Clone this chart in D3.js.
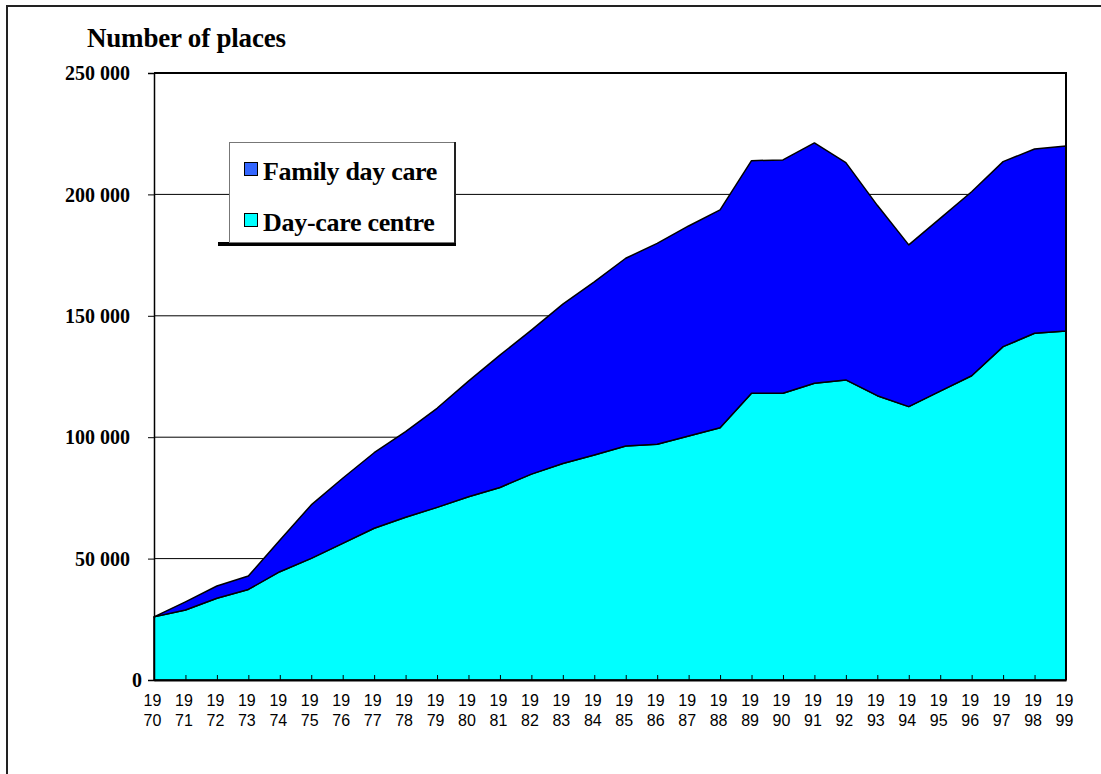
<!DOCTYPE html>
<html>
<head>
<meta charset="utf-8">
<script src="https://cdn.jsdelivr.net/npm/d3@7"></script>
<style>
  body { margin: 0; background: #fff; }
  svg { display: block; }
</style>
</head>
<body>
<div id="viz"></div>
<script>
// chart values
var years = [1970, 1971, 1972, 1973, 1974, 1975, 1976, 1977, 1978, 1979,
             1980, 1981, 1982, 1983, 1984, 1985, 1986, 1987, 1988, 1989,
             1990, 1991, 1992, 1993, 1994, 1995, 1996, 1997, 1998, 1999];
var dayCareCentre = [26000, 28800, 33700, 37300, 44600, 50100, 56300, 62500, 67000, 71100,
                     75500, 79300, 84800, 89200, 92700, 96400, 97100, 100500, 103900, 118100,
                     118100, 122200, 123600, 117100, 112600, 119000, 125300, 137300, 142800, 143700];
var familyDayCare = [0, 3400, 5000, 5500, 13000, 22000, 26800, 31100, 35300, 40800,
                     47600, 54500, 59300, 65600, 71300, 77300, 82700, 86500, 89700, 95800,
                     96100, 99000, 89500, 78400, 66600, 71100, 75800, 76200, 75900, 76200];
var yTicks = [0, 50000, 100000, 150000, 200000, 250000];
var seriesNames = ['Day-care centre', 'Family day care'];
var legendNames = ['Family day care', 'Day-care centre'];

var width = 1101,
    height = 774;

var colors = { 'Day-care centre': '#00FFFF', 'Family day care': '#0000FF' };
var swatch = { 'Day-care centre': '#00FFFF', 'Family day care': '#3366FF' };

var table = years.map(function(y, i) {
  return { year: y, 'Day-care centre': dayCareCentre[i], 'Family day care': familyDayCare[i] };
});

var stacked = d3.stack().keys(seriesNames)(table);

var x = d3.scaleLinear()
    .domain([years[0], years[years.length - 1]])
    .range([154, 1066]);

var y = d3.scaleLinear()
    .domain([0, 250000])
    .range([680, 73]);

var fmt = d3.formatLocale({ decimal: '.', thousands: ' ', grouping: [3], currency: ['', ''] }).format(',');

var svg = d3.select('#viz').append('svg')
    .attr('width', width)
    .attr('height', height);

// outer frame (runs off the page on right / bottom)
svg.append('rect')
    .attr('x', 7)
    .attr('y', 6)
    .attr('width', 1200)
    .attr('height', 900)
    .style('fill', 'none')
    .style('stroke', '#222')
    .style('stroke-width', 2);

// gridlines
svg.append('g')
  .selectAll('line').data(yTicks.filter(function(d) { return d > 0 && d < 250000; }))
  .enter().append('line')
    .attr('x1', x.range()[0])
    .attr('x2', x.range()[1])
    .attr('y1', function(d) { return y(d); })
    .attr('y2', function(d) { return y(d); })
    .style('stroke', '#000')
    .style('stroke-width', 1);

// areas
var area = d3.area()
    .x(function(d) { return x(d.data.year); })
    .y0(function(d) { return y(d[0]); })
    .y1(function(d) { return y(d[1]); });

svg.append('g')
  .selectAll('path').data(stacked)
  .enter().append('path')
    .attr('d', area)
    .style('fill', function(d) { return colors[d.key]; })
    .style('stroke', '#000')
    .style('stroke-width', 1.5)
    .style('stroke-linejoin', 'round');

// plot border top / right
svg.append('path')
    .attr('d', 'M' + x.range()[0] + ',' + y(250000) + 'H' + x.range()[1] + 'V' + y(0))
    .style('fill', 'none')
    .style('stroke', '#000')
    .style('stroke-width', 2);

// y axis
var yAxis = svg.append('g')
    .attr('transform', 'translate(' + x.range()[0] + ',0)')
    .call(d3.axisLeft(y).tickValues(yTicks).tickSize(6).tickPadding(0).tickFormat(fmt));
yAxis.select('.domain').style('stroke', '#000').style('stroke-width', 1.5);
yAxis.selectAll('.tick line').style('stroke', '#000');
yAxis.selectAll('.tick text')
    .attr('x', function(d) { return d === 0 ? -12 : -24; })
    .attr('dy', '0.33em')
    .style('font-family', '"Liberation Serif", "Times New Roman", serif')
    .style('font-weight', 'bold')
    .style('font-size', '20px')
    .style('fill', '#000');

// x axis
var xAxis = svg.append('g')
    .attr('transform', 'translate(0,' + y(0) + ')')
    .call(d3.axisBottom(x).tickValues(years).tickSizeInner(-5).tickSizeOuter(0).tickFormat(''));
xAxis.select('.domain').style('stroke', '#000').style('stroke-width', 2);
xAxis.selectAll('.tick line').style('stroke', '#000');
xAxis.selectAll('.tick').append('text')
    .attr('y', 26)
    .style('font-family', '"Liberation Sans", Arial, sans-serif')
    .style('font-size', '16px')
    .style('fill', '#000')
    .attr('text-anchor', 'middle')
  .selectAll('tspan')
    .data(function(d) { var s = String(d); return [s.slice(0, 2), s.slice(2)]; })
  .enter().append('tspan')
    .attr('x', -2)
    .attr('dy', function(d, i) { return i === 0 ? 0 : 20; })
    .text(function(d) { return d; });

// title
svg.append('text')
    .attr('x', 87)
    .attr('y', 47)
    .style('font-family', '"Liberation Serif", "Times New Roman", serif')
    .style('font-weight', 'bold')
    .style('font-size', '27px')
    .style('letter-spacing', '-0.2px')
    .text('Number of places');

// legend
var legend = svg.append('g');
legend.append('line')
    .attr('x1', 218).attr('x2', 456)
    .attr('y1', 244).attr('y2', 244)
    .style('stroke', '#000')
    .style('stroke-width', 4);
legend.append('rect')
    .attr('x', 229.5)
    .attr('y', 142.5)
    .attr('width', 225)
    .attr('height', 100)
    .style('fill', '#fff')
    .style('stroke', '#777')
    .style('stroke-width', 1);
legend.append('line')
    .attr('x1', 455).attr('x2', 455)
    .attr('y1', 142).attr('y2', 243)
    .style('stroke', '#222')
    .style('stroke-width', 2);

var items = legend.selectAll('g.item').data(legendNames)
  .enter().append('g')
    .attr('class', 'item')
    .attr('transform', function(d, i) { return 'translate(244,' + (162 + i * 51) + ')'; });
items.append('rect')
    .attr('x', 0.5)
    .attr('y', 0.5)
    .attr('width', 13)
    .attr('height', 13)
    .style('fill', function(d) { return swatch[d]; })
    .style('stroke', '#000');
items.append('text')
    .attr('x', 19)
    .attr('y', 18)
    .style('font-family', '"Liberation Serif", "Times New Roman", serif')
    .style('font-weight', 'bold')
    .style('font-size', '26px')
    .style('letter-spacing', '-0.3px')
    .text(function(d) { return d; });
</script>
</body>
</html>
